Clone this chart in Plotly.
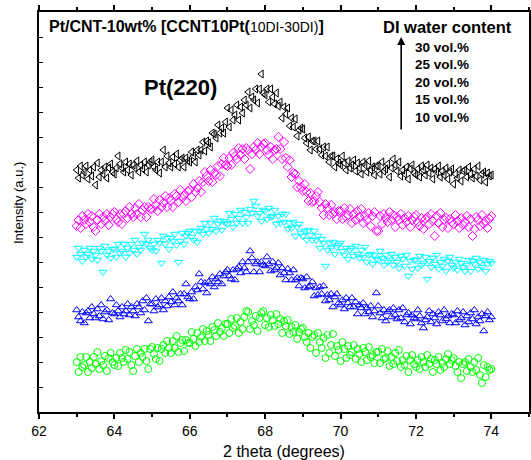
import numpy as np
import plotly.graph_objects as go

# measurement grid (2 theta, degrees)
x_start = 63.0
x_step = 0.05
n_pts = 221
two_theta = np.round(x_start + x_step * np.arange(n_pts), 2)

series_names = ["30 vol.%", "25 vol.%", "20 vol.%", "15 vol.%", "10 vol.%"]

# intensities (a.u., offset-stacked as in the figure)
y_30 = [
    242, 234, 246, 237, 240, 246, 233, 242, 236, 245, 227, 249, 235, 242, 238, 245, 234, 244, 248, 240,
    238, 244, 256, 248, 244, 240, 250, 242, 248, 237, 247, 244, 251, 240, 247, 243, 250, 240, 247, 250,
    252, 245, 242, 250, 239, 250, 262, 245, 256, 249, 245, 255, 248, 258, 245, 252, 254, 245, 254, 251,
    250, 260, 256, 250, 262, 257, 262, 270, 261, 271, 269, 265, 279, 278, 274, 287, 279, 284, 279, 290,
    304, 285, 302, 292, 297, 307, 292, 305, 299, 312, 307, 320, 304, 315, 312, 323, 309, 323, 338, 319,
    317, 323, 310, 323, 315, 308, 319, 306, 310, 294, 305, 298, 304, 286, 294, 285, 293, 276, 282, 284,
    283, 274, 269, 275, 262, 271, 271, 263, 271, 263, 257, 265, 256, 265, 250, 256, 256, 245, 253, 249,
    247, 256, 249, 242, 251, 244, 247, 252, 241, 249, 244, 238, 250, 247, 240, 251, 242, 245, 237, 246,
    246, 238, 250, 241, 243, 248, 235, 244, 253, 247, 241, 250, 236, 242, 238, 245, 233, 243, 247, 239,
    237, 243, 235, 246, 242, 237, 247, 239, 244, 233, 243, 240, 246, 235, 241, 237, 244, 233, 240, 243,
    228, 238, 234, 242, 231, 241, 242, 235, 245, 238, 234, 243, 236, 246, 232, 238, 240, 230, 239, 236, 237,
]
y_25 = [
    186, 192, 184, 196, 192, 188, 198, 190, 196, 185, 181, 192, 198, 188, 195, 191, 198, 187, 195, 198,
    200, 193, 190, 198, 188, 198, 201, 194, 205, 198, 195, 204, 198, 208, 195, 202, 205, 195, 205, 203,
    203, 213, 207, 201, 212, 205, 209, 216, 205, 214, 211, 205, 218, 216, 210, 222, 214, 217, 211, 221,
    222, 215, 228, 220, 224, 231, 220, 230, 240, 236, 231, 242, 230, 239, 237, 246, 236, 248, 254, 247,
    246, 254, 247, 259, 256, 253, 264, 257, 263, 253, 264, 262, 243, 258, 265, 262, 269, 258, 265, 268,
    269, 262, 257, 265, 253, 262, 263, 275, 263, 253, 270, 254, 245, 252, 235, 239, 238, 225, 231, 225,
    221, 228, 220, 211, 219, 210, 211, 216, 220, 210, 204, 197, 208, 204, 197, 207, 198, 200, 193, 201,
    201, 193, 204, 195, 197, 203, 189, 198, 192, 201, 195, 203, 189, 196, 192, 199, 186, 196, 200, 181,
    181, 196, 188, 198, 194, 190, 200, 192, 197, 185, 195, 192, 198, 187, 194, 190, 196, 185, 192, 195,
    197, 190, 186, 194, 183, 193, 195, 188, 198, 191, 176, 196, 189, 199, 185, 192, 194, 184, 193, 190,
    188, 197, 191, 184, 194, 187, 190, 196, 185, 193, 176, 183, 195, 192, 186, 197, 188, 191, 184, 193, 196,
]
y_20 = [
    155, 164, 158, 151, 162, 155, 158, 164, 153, 161, 157, 152, 164, 161, 140, 166, 157, 161, 154, 163,
    163, 155, 168, 159, 161, 168, 155, 164, 159, 168, 162, 172, 158, 165, 162, 169, 178, 168, 172, 164,
    162, 168, 161, 172, 169, 149, 176, 168, 174, 163, 174, 171, 178, 167, 150, 171, 179, 168, 176, 179,
    181, 175, 172, 181, 170, 181, 184, 178, 189, 183, 179, 189, 183, 194, 181, 188, 191, 182, 191, 189,
    188, 199, 193, 185, 198, 189, 194, 202, 189, 200, 195, 189, 203, 199, 211, 206, 196, 199, 191, 202,
    201, 193, 204, 195, 196, 202, 188, 196, 189, 198, 190, 198, 183, 189, 184, 190, 176, 185, 188, 179,
    176, 181, 172, 182, 177, 172, 181, 172, 176, 164, 173, 169, 146, 162, 169, 164, 170, 158, 165, 167,
    169, 161, 157, 164, 153, 162, 164, 156, 166, 158, 154, 162, 155, 165, 150, 157, 158, 148, 157, 153,
    152, 161, 154, 147, 157, 150, 152, 158, 147, 155, 150, 144, 156, 153, 146, 157, 136, 151, 143, 152,
    152, 144, 156, 147, 149, 155, 133, 151, 145, 154, 148, 157, 143, 150, 146, 153, 141, 151, 155, 147,
    144, 150, 142, 153, 149, 145, 141, 147, 152, 141, 151, 148, 154, 143, 150, 145, 152, 141, 148, 151, 149,
]
y_15 = [
    102, 95, 91, 100, 89, 99, 101, 94, 105, 98, 94, 103, 96, 107, 93, 100, 102, 92, 113, 99,
    98, 107, 101, 95, 105, 98, 101, 108, 97, 105, 101, 96, 108, 105, 99, 111, 102, 114, 91, 108,
    108, 101, 113, 105, 107, 114, 102, 111, 106, 115, 110, 120, 107, 114, 111, 118, 107, 118, 128, 115,
    113, 120, 113, 125, 122, 138, 130, 123, 129, 119, 130, 128, 135, 125, 133, 130, 138, 128, 136, 140,
    142, 136, 133, 142, 132, 143, 145, 139, 150, 144, 140, 150, 161, 154, 140, 148, 150, 140, 150, 147,
    146, 155, 148, 141, 150, 142, 144, 149, 137, 144, 139, 132, 143, 139, 132, 142, 132, 134, 126, 134,
    133, 124, 135, 125, 126, 130, 116, 124, 117, 125, 118, 126, 111, 117, 112, 118, 105, 115, 118, 109,
    107, 112, 103, 114, 109, 105, 114, 105, 110, 98, 107, 104, 109, 98, 104, 100, 106, 95, 101, 119,
    106, 99, 94, 102, 91, 100, 102, 95, 104, 97, 93, 102, 94, 104, 90, 97, 99, 88, 97, 94,
    93, 102, 96, 89, 84, 92, 95, 101, 90, 98, 94, 88, 100, 97, 91, 102, 93, 96, 89, 98,
    97, 89, 101, 92, 94, 100, 87, 96, 90, 99, 93, 102, 88, 95, 91, 98, 81, 96, 100, 92, 95,
]
y_10 = [
    50, 40, 55, 45, 47, 55, 40, 50, 44, 55, 48, 60, 43, 51, 47, 56, 41, 54, 59, 50,
    47, 54, 46, 59, 54, 50, 62, 53, 60, 47, 41, 56, 63, 50, 59, 55, 63, 51, 43, 63,
    65, 58, 53, 64, 51, 63, 67, 59, 71, 64, 59, 71, 64, 76, 60, 69, 72, 61, 72, 69,
    69, 80, 73, 66, 79, 70, 75, 83, 71, 81, 77, 71, 85, 82, 76, 89, 80, 84, 76, 88,
    88, 79, 93, 84, 86, 94, 79, 90, 83, 95, 101, 100, 83, 91, 87, 96, 81, 94, 99, 101,
    87, 94, 85, 97, 92, 86, 98, 88, 93, 79, 91, 86, 92, 78, 85, 80, 87, 73, 80, 83,
    84, 75, 70, 79, 64, 75, 77, 59, 79, 70, 64, 74, 54, 77, 59, 67, 78, 56, 66, 62,
    51, 70, 63, 54, 66, 57, 60, 67, 53, 63, 58, 50, 64, 60, 52, 65, 55, 57, 49, 60,
    60, 49, 63, 53, 54, 61, 46, 55, 48, 59, 51, 62, 45, 52, 47, 56, 40, 52, 57, 48,
    45, 52, 43, 55, 50, 45, 57, 48, 53, 40, 52, 48, 55, 42, 49, 45, 53, 58, 48, 52,
    54, 46, 40, 50, 34, 48, 50, 41, 53, 45, 40, 50, 42, 54, 37, 29, 47, 35, 45, 42, 43,
]

x_ticks = [62, 64, 66, 68, 70, 72, 74]

series = [
    (y_10, "10 vol.%", "circle-open", "#00FF00"),
    (y_15, "15 vol.%", "triangle-up-open", "#0000FF"),
    (y_20, "20 vol.%", "triangle-down-open", "#00FFFF"),
    (y_25, "25 vol.%", "diamond-open", "#FF00FF"),
    (y_30, "30 vol.%", "triangle-left-open", "#000000"),
]

FONT = "Arial, 'Liberation Sans', sans-serif"

fig = go.Figure()
for ys, name, sym, col in series:
    fig.add_trace(go.Scatter(
        x=two_theta, y=ys, mode="markers", name=name,
        marker=dict(symbol=sym, size=7, color=col, line=dict(width=1, color=col)),
        showlegend=False,
    ))

fig.update_layout(
    width=531, height=460,
    margin=dict(l=39, r=0, t=12, b=48),
    plot_bgcolor="white", paper_bgcolor="white",
    font=dict(family=FONT, color="black"),
)
fig.update_xaxes(
    range=[62, 75], tickmode="array", tickvals=x_ticks,
    ticks="outside", ticklen=5, tickwidth=1.5, tickcolor="black",
    minor=dict(dtick=1, ticks="outside", ticklen=3, tickwidth=1.5, tickcolor="black"),
    showline=True, linewidth=1.8, linecolor="black", mirror="ticks",
    showgrid=False, zeroline=False,
    tickfont=dict(size=14, family=FONT),
    title=dict(text="2 theta (degrees)", font=dict(size=16, family=FONT), standoff=9),
)
fig.update_yaxes(
    range=[0, 400], tickmode="linear", tick0=0, dtick=25,
    ticks="inside", ticklen=4, tickwidth=1, tickcolor="black",
    showticklabels=False,
    showline=True, linewidth=1.8, linecolor="black", mirror=True,
    showgrid=False, zeroline=False,
)

# y-axis title
fig.add_annotation(
    xref="paper", yref="y", x=0, y=412 - 203, xshift=-21,
    text="Intensity (a.u.)", textangle=-90, showarrow=False,
    font=dict(size=13, family=FONT), xanchor="center", yanchor="middle",
)
# header
fig.add_annotation(
    xref="x", yref="y", x=62 + (47 - 39.3) / 37.85, y=412 - 26, xanchor="left", yanchor="middle",
    text="<b>Pt/CNT-10wt% [CCNT10Pt(</b><span style='font-size:14px'>10DI-30DI)</span><b>]</b>",
    showarrow=False, font=dict(size=16, family=FONT),
)
fig.add_annotation(
    xref="x", yref="y", x=62 + (143 - 39.3) / 37.85, y=412 - 87, xanchor="left", yanchor="middle",
    text="<b>Pt(220)</b>", showarrow=False, font=dict(size=22, family=FONT),
)
fig.add_annotation(
    xref="x", yref="y", x=62 + (383 - 39.3) / 37.85, y=412 - 27, xanchor="left", yanchor="middle",
    text="<b>DI water content</b>", showarrow=False, font=dict(size=16.5, family=FONT),
)
# arrow
arrow_x = 62 + (403 - 39.3) / 37.85
fig.add_annotation(
    xref="x", yref="y", axref="x", ayref="y",
    x=arrow_x, y=412 - 37, ax=arrow_x, ay=412 - 131,
    showarrow=True, arrowhead=2, arrowsize=1, arrowwidth=1.6, arrowcolor="black", text="",
)
label_y = [47, 64, 82, 99, 117]
for lab, py in zip(series_names, label_y):
    fig.add_annotation(
        xref="x", yref="y", x=62 + (415 - 39.3) / 37.85, y=412 - py,
        xanchor="left", yanchor="middle", text="<b>" + lab + "</b>",
        showarrow=False, font=dict(size=13.5, family=FONT),
    )

fig.write_html("out.html")
